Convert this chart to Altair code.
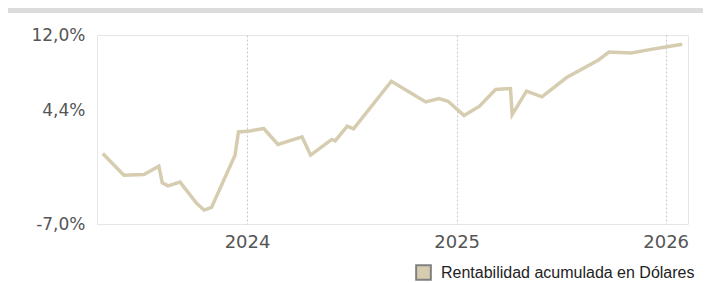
import altair as alt
import pandas as pd

dates = ["2023-04-24", "2023-05-31", "2023-07-05", "2023-07-31", "2023-08-06", "2023-08-16",
         "2023-09-06", "2023-10-05", "2023-10-18", "2023-10-31", "2023-12-11", "2023-12-17",
         "2024-01-06", "2024-01-30", "2024-02-24", "2024-04-06", "2024-04-21", "2024-05-28",
         "2024-06-03", "2024-06-24", "2024-07-05", "2024-09-09", "2024-11-08", "2024-12-01",
         "2024-12-17", "2025-01-14", "2025-02-10", "2025-03-10", "2025-04-05", "2025-04-08",
         "2025-05-03", "2025-05-30", "2025-07-12", "2025-09-05", "2025-09-24", "2025-11-02",
         "2025-12-04", "2026-01-01", "2026-01-30"]
values = [0.09, -2.09, -2.02, -1.18, -2.86, -3.16, -2.79, -4.93, -5.6, -5.33, -0.08, 2.26,
          2.36, 2.6, 1.0, 1.76, -0.08, 1.5, 1.36, 2.83, 2.56, 7.35, 5.27, 5.61, 5.34, 3.91,
          4.84, 6.52, 6.62, 4.0, 6.35, 5.78, 7.72, 9.46, 10.29, 10.19, 10.53, 10.8, 11.07]
series_name = "Rentabilidad acumulada en Dólares"
y_ticks = [-7.0, 4.4, 12.0]
x_ticks = ["2024", "2025", "2026"]

line_color = "#d6cdb1"

df = pd.DataFrame({"date": dates, "value": values, "serie": series_name})

x_vals = [alt.DateTime(year=int(y), month=1, date=1, utc=True) for y in x_ticks]

x_enc = alt.X("date:T",
              scale=alt.Scale(type="utc",
                              domain=[alt.DateTime(year=2023, month=4, date=14, utc=True),
                                      alt.DateTime(year=2026, month=2, date=9, utc=True)]),
              axis=alt.Axis(values=x_vals, labelExpr="utcFormat(datum.value, '%Y')",
                            title=None, domain=False, ticks=False, grid=True,
                            gridDash=[2, 2], gridColor="#c8c8c8", gridWidth=1,
                            labelFont="DejaVu Sans", labelFontSize=18, labelColor="#555555",
                            labelPadding=9))
y_enc = alt.Y("value:Q",
              scale=alt.Scale(domain=[-7, 12], nice=False, zero=False),
              axis=alt.Axis(values=y_ticks,
                            labelExpr="replace(replace(format(datum.value, '.1f'), '.', ','), '\u2212', '-') + '%'",
                            title=None, domain=False, ticks=False, grid=False,
                            labelFont="DejaVu Sans", labelFontSize=17, labelColor="#555555",
                            labelPadding=12))

line = alt.Chart(df).mark_line(strokeWidth=3.5, color=line_color).encode(x=x_enc, y=y_enc)

legend_pts = alt.Chart(df).mark_point(shape="square", filled=True, size=0,
                                      stroke="#808080", strokeWidth=2, opacity=1).encode(
    x=alt.X("date:T"), y=alt.Y("value:Q"),
    fill=alt.Fill("serie:N", scale=alt.Scale(range=[line_color]),
                  legend=alt.Legend(orient="none", legendX=318, legendY=229, title=None,
                                    symbolType="square", symbolSize=215,
                                    symbolStrokeWidth=2, symbolStrokeColor="#808080",
                                    symbolOpacity=1, labelLimit=400,
                                    labelFont="Liberation Sans", labelFontSize=16,
                                    labelColor="#222222", labelOffset=9)),
)

bar = alt.Chart(alt.Data(values=[{"a": 1}])).mark_rect(color="#dcdcdc").encode(
    x=alt.value(-89), x2=alt.value(606), y=alt.value(-30), y2=alt.value(-22)
)

chart = alt.layer(bar, line, legend_pts).properties(
    width=591, height=189,
    padding={"left": 89, "top": 27, "right": 15, "bottom": 59},
    autosize=alt.AutoSizeParams(type="none"),
).configure_view(stroke="#e6e6e6", strokeWidth=1)

chart.save("out.html", embed_options={"renderer": "svg", "actions": False})
